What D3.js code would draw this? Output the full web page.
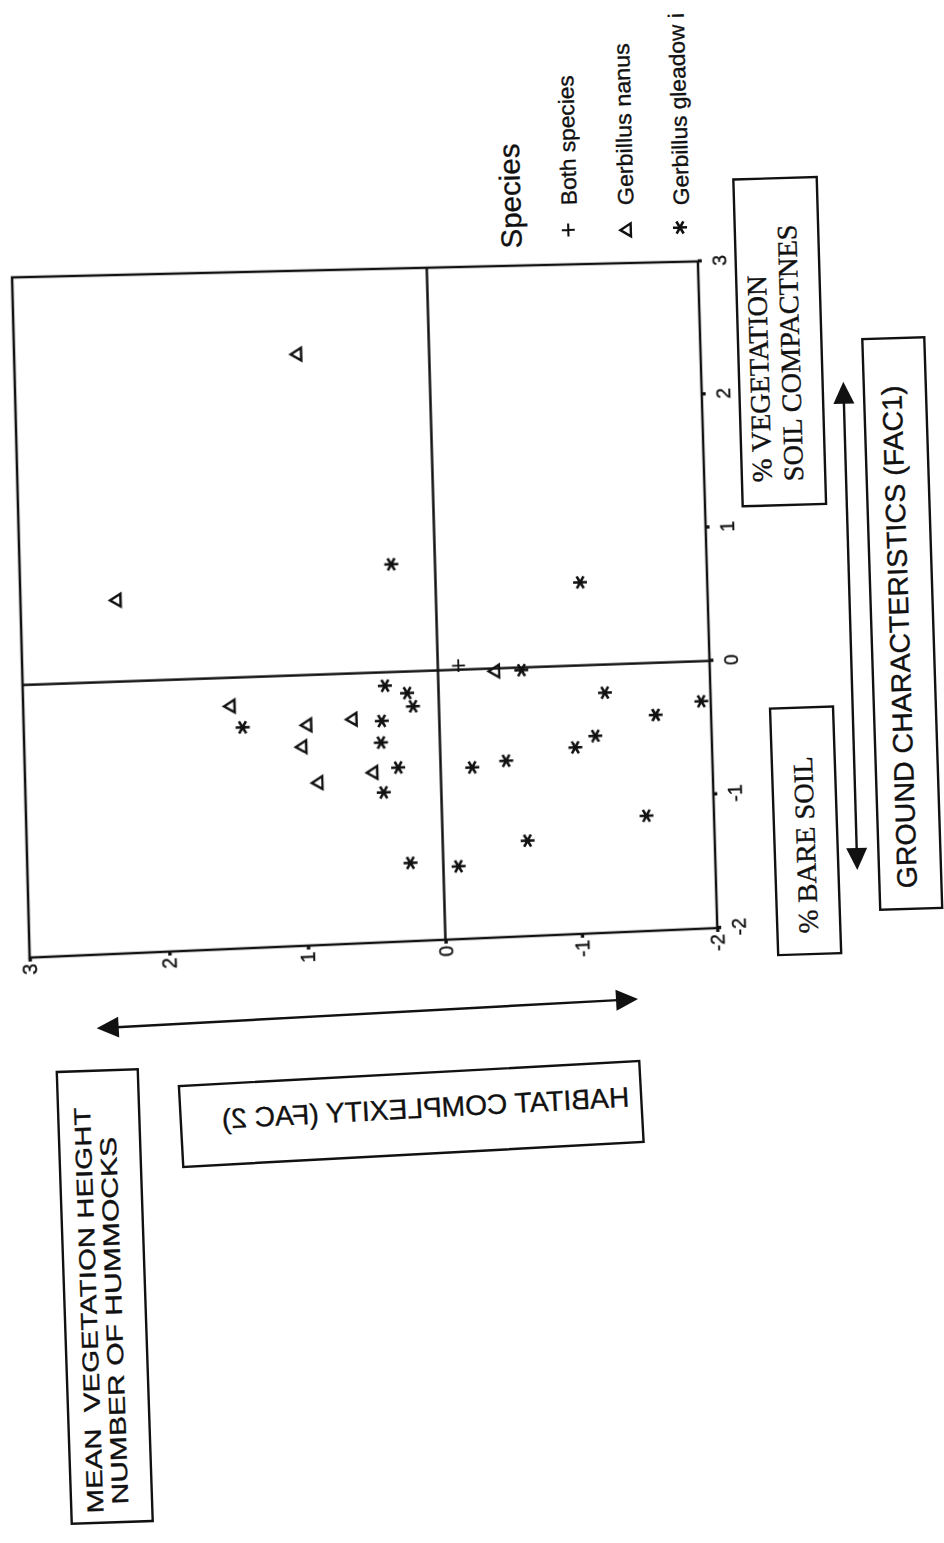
<!DOCTYPE html>
<html>
<head>
<meta charset="utf-8">
<title>Habitat factor scores of capture sites</title>
<script src="https://cdn.jsdelivr.net/npm/d3@7/dist/d3.min.js"></script>
<style>
html, body { margin:0; padding:0; background:#fff; }
#page { position:relative; width:944px; height:1543px; overflow:hidden; background:#fff; }
#page svg { position:absolute; left:0; top:0; overflow:visible; }
#plot { position:absolute; left:0; top:0; transform-origin:0 0; }
text { white-space:pre; }
</style>
</head>
<body>
<div id="page"></div>
<script>
// ---------------- data ----------------
const fac1Ticks = [-2, -1, 0, 1, 2, 3];
const fac1TickLabels = ["-2", "-1", "0", "1", "2", "3"];
const fac2Ticks = [-2, -1, 0, 1, 2, 3];
const fac2TickLabels = ["-2", "-1", "0", "1", "2", "3"];

// Both species (+)
const bothFac1 = [0.03];
const bothFac2 = [-0.15];
// Gerbillus nanus (triangles)
const nanusFac1 = [2.38, 0.60, -0.21, -0.37, -0.53, -0.80, -0.34, -0.74, -0.02];
const nanusFac2 = [0.97, 2.32, 1.52, 0.97, 1.01, 0.90, 0.64, 0.50, -0.41];
// Gerbillus gleadowi (asterisks)
const gleadowiFac1 = [0.80, 0.62, -0.37, -0.10, -0.16, -0.26, -0.36, -0.52, -0.71, -0.89, -1.42,
                      -1.46, -0.73, -0.02, -0.21, -0.30, -0.39, -0.53, -0.61, -0.69, -1.14, -1.29];
const gleadowiFac2 = [0.32, -1.06, 1.43, 0.39, 0.23, 0.19, 0.42, 0.43, 0.31, 0.42, 0.24,
                      -0.11, -0.23, -0.61, -1.22, -1.93, -1.59, -1.14, -0.99, -0.48, -1.50, -0.62];

const legendTitle = "Species";
const legendLabels = ["Both species", "Gerbillus nanus", "Gerbillus gleadow i"];
const legendKinds = ["plus", "triangle", "asterisk"];

const fac1Title = "GROUND CHARACTERISTICS (FAC1)";
const fac1HighLines = ["% VEGETATION", "SOIL COMPACTNES"];
const fac1LowLines = ["% BARE SOIL"];
const fac2Title = "HABITAT COMPLEXITY (FAC 2)";
const fac2HighLines = ["MEAN  VEGETATION HEIGHT", "NUMBER OF HUMMOCKS"];

// ---------------- styling ----------------
const ink = "#111";
const SANS = "'Liberation Sans', Arial, Helvetica, sans-serif";
const SERIF = "'Liberation Serif', 'Times New Roman', serif";
const TEXT_STROKE = 0.35;

const shapes = {
  triangle: "M0,-5.5L6.5,5L-6.5,5Z",
  asterisk: "M0,-7L0,7M-6.1,-3.5L6.1,3.5M-6.1,3.5L6.1,-3.5",
  plus: "M-6.5,0H6.5M0,-6.5V6.5"
};
const shapeStroke = { triangle: 2.4, asterisk: 2.6, plus: 1.8 };

const pageDiv = d3.select("#page");

// ================= peripheral page elements (the scan is turned on its side) =================
const page = pageDiv.append("svg").attr("width", 944).attr("height", 1543);

function inkText(sel) {
  return sel.attr("fill", ink).attr("stroke", ink).attr("stroke-width", TEXT_STROKE);
}

function drawBox(cfg) {
  const g = page.append("g").attr("transform", `translate(${cfg.cx},${cfg.cy}) rotate(${cfg.rot})`);
  g.append("rect")
    .attr("x", -cfg.w / 2).attr("y", -cfg.h / 2)
    .attr("width", cfg.w).attr("height", cfg.h)
    .attr("fill", "none").attr("stroke", ink).attr("stroke-width", 2.4);
  cfg.lines.forEach(l => {
    const t = g.append("text")
      .attr("x", l.x).attr("y", l.y)
      .attr("font-family", cfg.font).attr("font-size", cfg.size)
      .attr("textLength", l.len).attr("lengthAdjust", "spacingAndGlyphs")
      .text(l.t)
      .call(inkText);
    if (l.anchor) t.attr("text-anchor", l.anchor);
    if (l.mirror) t.attr("transform", "scale(-1,1)");
  });
}

function drawArrow(x1, y1, x2, y2) {
  const L = 22, hw = 10.5;
  const dx = x2 - x1, dy = y2 - y1, len = Math.hypot(dx, dy);
  const ux = dx / len, uy = dy / len, px = -uy, py = ux;
  page.append("line")
    .attr("x1", x1 + ux * (L - 2)).attr("y1", y1 + uy * (L - 2))
    .attr("x2", x2 - ux * (L - 2)).attr("y2", y2 - uy * (L - 2))
    .attr("stroke", ink).attr("stroke-width", 2.4);
  const head = (tx, ty, sx, sy) => {
    const bx = tx + sx * L, by = ty + sy * L;
    return `M${tx},${ty}L${bx + px * hw},${by + py * hw}L${bx - px * hw},${by - py * hw}Z`;
  };
  page.append("path").attr("d", head(x1, y1, ux, uy)).attr("fill", ink);
  page.append("path").attr("d", head(x2, y2, -ux, -uy)).attr("fill", ink);
}

// FAC 2 explanation box (rotated text)
drawBox({ cx: 104.75, cy: 1296.5, rot: -91.9, w: 452, h: 81, font: SANS, size: 23,
  lines: [
    { t: fac2HighLines[0], x: -216.5, y: -8.5, len: 406 },
    { t: fac2HighLines[1], x: -208.5, y: 16.5, len: 368 }
  ] });
// FAC 2 title (mirrored in the original)
drawBox({ cx: 411.25, cy: 1114, rot: -3.1, w: 461, h: 81, font: SANS, size: 28,
  lines: [ { t: fac2Title, x: -14.5, y: 4.4, len: 408, anchor: "middle", mirror: true } ] });
// FAC 1 high end
drawBox({ cx: 779.7, cy: 341.7, rot: -91.64, w: 327, h: 83.4, font: SERIF, size: 28,
  lines: [
    { t: fac1HighLines[0], x: -140, y: -12, len: 207 },
    { t: fac1HighLines[1], x: -140, y: 19.6, len: 257 }
  ] });
// FAC 1 low end
drawBox({ cx: 805.6, cy: 830.8, rot: -91.9, w: 246.7, h: 63, font: SERIF, size: 28,
  lines: [ { t: fac1LowLines[0], x: -102.5, y: 8.9, len: 177 } ] });
// FAC 1 title
drawBox({ cx: 902.25, cy: 623.5, rot: -91.8, w: 571, h: 62, font: SANS, size: 28,
  lines: [ { t: fac1Title, x: -264.8, y: 6.5, len: 503 } ] });

// double-headed arrows
drawArrow(96.7, 1028.3, 638, 999);
drawArrow(843.3, 381.7, 857.3, 870);

// legend
const legRot = -91.6;
page.append("text")
  .attr("transform", `translate(521.7,248.3) rotate(${legRot})`)
  .attr("font-family", SANS).attr("font-size", 29)
  .attr("textLength", 105).attr("lengthAdjust", "spacingAndGlyphs")
  .text(legendTitle).call(inkText);
const legSym = [[568.3, 230], [625.8, 230], [680, 227.5]];
const legText = [[576.7, 205, 130], [633.5, 205, 162], [689, 205, 192]];
legendLabels.forEach((lab, i) => {
  const k = legendKinds[i];
  page.append("path")
    .attr("transform", `translate(${legSym[i][0]},${legSym[i][1]}) rotate(${legRot})`)
    .attr("d", shapes[k]).attr("fill", "none").attr("stroke", ink)
    .attr("stroke-width", k === "plus" ? 2.1 : shapeStroke[k]);
  page.append("text")
    .attr("transform", `translate(${legText[i][0]},${legText[i][1]}) rotate(${legRot})`)
    .attr("font-family", SANS).attr("font-size", 22)
    .attr("textLength", legText[i][2]).attr("lengthAdjust", "spacingAndGlyphs")
    .text(lab).call(inkText);
});

// ================= the scatter plot, drawn upright, then warped onto the scan =================
const mL = 60, mT = 20, W = 686, H = 686, mR = 40, mB = 50;
const plotDiv = pageDiv.append("div").attr("id", "plot");
const svg = plotDiv.append("svg").attr("width", mL + W + mR).attr("height", mT + H + mB);

const x = d3.scaleLinear().domain([-2, 3]).range([mL, mL + W]);
const y = d3.scaleLinear().domain([-2, 3]).range([mT + H, mT]);

const xAxis = d3.axisBottom(x).tickValues(fac1Ticks)
  .tickFormat((d, i) => fac1TickLabels[i]).tickSizeInner(4).tickSizeOuter(0).tickPadding(11);
const yAxis = d3.axisLeft(y).tickValues(fac2Ticks)
  .tickFormat((d, i) => fac2TickLabels[i]).tickSizeInner(4).tickSizeOuter(0).tickPadding(2);

function styleAxis(g) {
  g.select(".domain").remove();
  g.selectAll(".tick line").attr("stroke", ink).attr("stroke-width", 3.4);
  g.selectAll(".tick text").attr("font-family", SANS).attr("font-size", 20).call(inkText);
}
svg.append("g").attr("transform", `translate(0,${mT + H})`).call(xAxis).call(styleAxis);
svg.append("g").attr("transform", `translate(${mL},0)`).call(yAxis).call(styleAxis);

// frame and zero lines
svg.append("rect").attr("x", mL).attr("y", mT).attr("width", W).attr("height", H)
  .attr("fill", "none").attr("stroke", ink).attr("stroke-width", 2.5);
svg.append("line").attr("x1", x(0)).attr("x2", x(0)).attr("y1", y(3)).attr("y2", y(-2))
  .attr("stroke", ink).attr("stroke-width", 2.5);
svg.append("line").attr("x1", x(-2)).attr("x2", x(3)).attr("y1", y(0)).attr("y2", y(0))
  .attr("stroke", ink).attr("stroke-width", 2.5);

// points
function drawSeries(f1, f2, kind) {
  svg.append("g").selectAll("path").data(d3.zip(f1, f2)).join("path")
    .attr("transform", d => `translate(${x(d[0])},${y(d[1])})`)
    .attr("d", shapes[kind]).attr("fill", "none").attr("stroke", ink)
    .attr("stroke-width", shapeStroke[kind]);
}
drawSeries(nanusFac1, nanusFac2, "triangle");
drawSeries(gleadowiFac1, gleadowiFac2, "asterisk");
drawSeries(bothFac1, bothFac2, "plus");

// ---- projective warp (least squares) from the upright plot onto the scanned page ----
function solve(A, b) {
  const n = b.length;
  for (let i = 0; i < n; i++) {
    let p = i;
    for (let r = i + 1; r < n; r++) if (Math.abs(A[r][i]) > Math.abs(A[p][i])) p = r;
    [A[i], A[p]] = [A[p], A[i]]; [b[i], b[p]] = [b[p], b[i]];
    for (let r = i + 1; r < n; r++) {
      const f = A[r][i] / A[i][i];
      for (let c = i; c < n; c++) A[r][c] -= f * A[i][c];
      b[r] -= f * b[i];
    }
  }
  const s = new Array(n);
  for (let i = n - 1; i >= 0; i--) {
    let v = b[i];
    for (let c = i + 1; c < n; c++) v -= A[i][c] * s[c];
    s[i] = v / A[i][i];
  }
  return s;
}
function homographyLS(src, dst) {
  const rows = [], rhs = [];
  src.forEach(([sx, sy], i) => {
    const [u, v] = dst[i];
    rows.push([sx, sy, 1, 0, 0, 0, -sx * u, -sy * u]); rhs.push(u);
    rows.push([0, 0, 0, sx, sy, 1, -sx * v, -sy * v]); rhs.push(v);
  });
  const N = Array.from({ length: 8 }, () => new Array(8).fill(0));
  const r = new Array(8).fill(0);
  rows.forEach((row, k) => {
    for (let i = 0; i < 8; i++) {
      r[i] += row[i] * rhs[k];
      for (let j = 0; j < 8; j++) N[i][j] += row[i] * row[j];
    }
  });
  return solve(N, r);
}
// calibration: axis positions (FAC1, FAC2) and where they sit on the scanned page
const calib = [
  [[-2, 3], [32, 960]], [[3, 3], [13.5, 273]], [[-2, -2], [718.3, 925.5]], [[3, -2], [698.5, 263.5]],
  [[0, 3], [24.5, 685]], [[0, -2], [711.5, 662]], [[0, 0], [433, 669.5]],
  [[3, 0], [423, 270]], [[-2, 0], [443, 939]],
  [[-2, 2], [170, 953]], [[-2, 1], [306, 947]], [[-2, -1], [580, 933]],
  [[-1, -2], [716.5, 793]], [[1, -2], [706.5, 527]], [[2, -2], [703, 395]]
];
const src = calib.map(c => [x(c[0][0]), y(c[0][1])]);
const dst = calib.map(c => c[1]);
const h = homographyLS(src, dst);
plotDiv.style("transform",
  `matrix3d(${h[0]},${h[3]},0,${h[6]},${h[1]},${h[4]},0,${h[7]},0,0,1,0,${h[2]},${h[5]},0,1)`);
</script>
</body>
</html>
